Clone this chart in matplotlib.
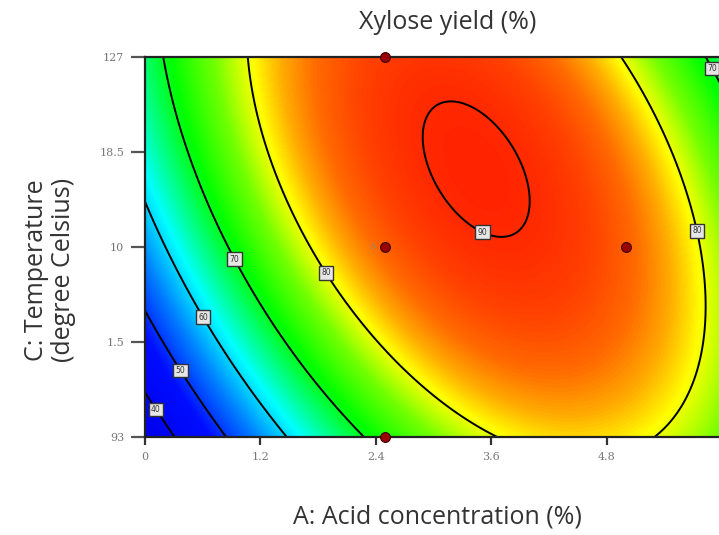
import numpy as np
import matplotlib
matplotlib.use("Agg")
import matplotlib.pyplot as plt
from matplotlib.colors import LinearSegmentedColormap

# ---- data ----
a_range = [0, 6]            # A: Acid concentration (%)
c_range = [93, 127]         # C: Temperature (degree Celsius)
x_ticks = [0, 1.2, 2.4, 3.6, 4.8, 6]
x_tick_labels = ["0", "1.2", "2.4", "3.6", "4.8", "6"]
y_ticks = [93, 101.5, 110, 118.5, 127]
y_tick_labels = ["93", "1.5", "10", "18.5", "127"]

# quadratic response-surface model in coded units (a, c in [-1, 1])
b0 = 88.49
bA = 10.68
bC = 6.32
bAC = -10.54
bAA = -21.5
bCC = -5.81

contour_levels = [40, 50, 60, 70, 80, 90]

design_A = [2.5, 2.5, 2.5, 5.0]
design_C = [127, 110, 93, 110]
center_reps = "6"

# label anchor positions (A, C)
label_pos = [(0.19, 95.9), (0.43, 99.3), (0.66, 104.0), (0.97, 109.1),
             (1.92, 107.9), (3.52, 111.5), (5.67, 111.3), (5.84, 125.7)]

# ---- surface ----
A = np.linspace(a_range[0], a_range[1], 500)
C = np.linspace(c_range[0], c_range[1], 500)
AA, CC = np.meshgrid(A, C)
ac = (AA - 3.0) / 3.0
cc = (CC - 110.0) / 17.0
Y = b0 + bA * ac + bC * cc + bAC * ac * cc + bAA * ac ** 2 + bCC * cc ** 2

vmin, vmax = Y.min(), Y.max()
anchors = [(vmin, (0.0, 0.0, 0.92)), (47, (0.0, 0.05, 1.0)), (55, (0.0, 0.5, 1.0)),
           (62, (0.0, 1.0, 1.0)), (67, (0.0, 1.0, 0.45)), (71, (0.0, 1.0, 0.0)),
           (76.5, (0.45, 1.0, 0.0)), (80.5, (1.0, 1.0, 0.0)), (83, (1.0, 0.68, 0.0)),
           (85.5, (1.0, 0.42, 0.0)), (88, (1.0, 0.26, 0.0)), (vmax, (1.0, 0.14, 0.0))]
cmap = LinearSegmentedColormap.from_list(
    "de", [((v - vmin) / (vmax - vmin), col) for v, col in anchors])

fig = plt.figure(figsize=(7.19, 5.35), dpi=100)
ax = fig.add_axes([0.2017, 0.1832, 0.8025, 0.7103])

ax.imshow(Y, origin="lower", extent=[a_range[0], a_range[1], c_range[0], c_range[1]],
          aspect="auto", cmap=cmap, vmin=vmin, vmax=vmax, interpolation="bilinear")
cs = ax.contour(AA, CC, Y, levels=contour_levels, colors="black", linewidths=1.4)
texts = ax.clabel(cs, contour_levels, manual=label_pos, inline=False, fmt="%g",
                  fontsize=5.5, colors="#333333")
for t in texts:
    t.set_rotation(0)
    t.set_bbox(dict(boxstyle="square,pad=0.3", fc="#e6e6e6", ec="#333333", lw=1.0))
    t.set_zorder(6)

ax.scatter(design_A, design_C, s=50, color="#9a0000", edgecolor="#3a0000",
           linewidth=0.8, zorder=7, clip_on=False, marker="o")
ax.text(design_A[1] - 0.13, design_C[1], center_reps, fontsize=5, color="#888888",
        ha="center", va="center", zorder=7)

ax.set_xlim(a_range)
ax.set_ylim(c_range)
ax.set_xticks(x_ticks)
ax.set_xticklabels(x_tick_labels)
ax.set_yticks(y_ticks)
ax.set_yticklabels(y_tick_labels)
ax.tick_params(axis="x", direction="out", length=6, width=1.6, color="#333333",
               labelsize=8, labelcolor="#777777", pad=5)
ax.tick_params(axis="y", direction="out", length=10, width=1.6, color="#555555",
               labelsize=8, labelcolor="#777777", pad=5)
for lab in ax.get_xticklabels() + ax.get_yticklabels():
    lab.set_family("DejaVu Serif")
for s in ax.spines.values():
    s.set_linewidth(1.6)
    s.set_color("#222222")

fig.text(0.622, 0.958, "Xylose yield (%)", ha="center", va="center",
         fontsize=18, family="Open Sans", color="#333333")
fig.text(0.608, 0.033, "A: Acid concentration (%)", ha="center", va="center",
         fontsize=18, family="Open Sans", color="#333333")
fig.text(0.07, 0.495, "C: Temperature\n(degree Celsius)", ha="center", va="center",
         rotation=90, fontsize=18, family="Open Sans", color="#333333",
         linespacing=1.1)

fig.savefig("out.png", dpi=100)
